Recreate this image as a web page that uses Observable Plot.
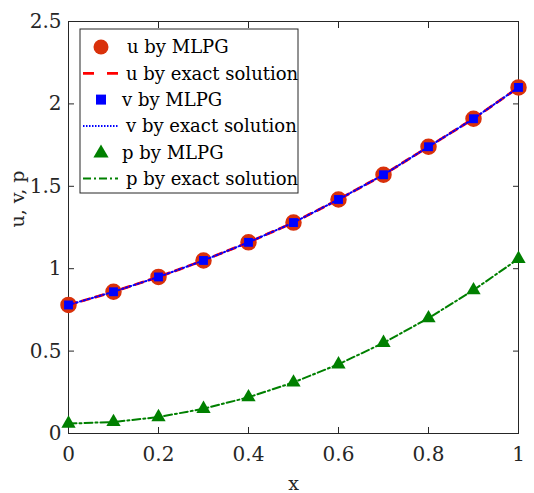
<!DOCTYPE html>
<html>
<head>
<meta charset="utf-8">
<script src="https://cdn.jsdelivr.net/npm/d3@7"></script>
<script src="https://cdn.jsdelivr.net/npm/@observablehq/plot@0.6"></script>
<style>
  html, body { margin: 0; padding: 0; background: #fff; }
  #chart { position: relative; width: 534px; height: 493px; }
</style>
</head>
<body>
<div id="chart"></div>
<script>
const xs = [0, 0.1, 0.2, 0.3, 0.4, 0.5, 0.6, 0.7, 0.8, 0.9, 1.0];
const uVals = [0.78, 0.86, 0.95, 1.05, 1.16, 1.28, 1.42, 1.57, 1.74, 1.91, 2.10];
const vVals = [0.78, 0.86, 0.95, 1.05, 1.16, 1.28, 1.42, 1.57, 1.74, 1.91, 2.10];
const pVals = [0.06, 0.07, 0.10, 0.15, 0.22, 0.31, 0.42, 0.55, 0.70, 0.87, 1.06];
const xTicks = [0, 0.2, 0.4, 0.6, 0.8, 1];
const yTicks = [0, 0.5, 1, 1.5, 2, 2.5];
const yTickLabels = ["0", "0.5", "1", "1.5", "2", "2.5"];
const legendLabels = ["u by MLPG", "u by exact solution", "v by MLPG", "v by exact solution", "p by MLPG", "p by exact solution"];

const uData = xs.map((x, i) => ({x, y: uVals[i]}));
const vData = xs.map((x, i) => ({x, y: vVals[i]}));
const pData = xs.map((x, i) => ({x, y: pVals[i]}));

const FONT = "DejaVu Serif, serif";
const RED = "#ff0000", ORANGE = "#d9310b", BLUE = "#0000ff", GREEN = "#008000";
const INK = "#262626";

const plot = Plot.plot({
  width: 534,
  height: 493,
  marginLeft: 68,
  marginRight: 16,
  marginTop: 21,
  marginBottom: 60,
  style: {fontFamily: FONT, fontSize: "20px", color: INK, background: "#fff"},
  x: {domain: [0, 1], ticks: xTicks},
  y: {domain: [0, 2.5], ticks: yTicks},
  marks: [
    Plot.axisX({anchor: "bottom", ticks: xTicks, tickSize: 0, tickPadding: 13, fontSize: 20, label: null, tickFormat: d => String(d)}),
    Plot.axisX({anchor: "bottom", ticks: xTicks, tickSize: -6, text: null, label: null, stroke: INK}),
    Plot.axisX({anchor: "top", ticks: xTicks, tickSize: -6, text: null, label: null, stroke: INK}),
    Plot.axisY({anchor: "left", ticks: yTicks, tickSize: 0, tickPadding: 7, fontSize: 20, label: null, tickFormat: (d, i) => yTickLabels[i]}),
    Plot.axisY({anchor: "left", ticks: yTicks, tickSize: -6, text: null, label: null, stroke: INK}),
    Plot.axisY({anchor: "right", ticks: yTicks, tickSize: -6, text: null, label: null, stroke: INK}),
    Plot.frame({stroke: INK, strokeWidth: 1}),
    Plot.dot(uData, {x: "x", y: "y", r: 7.5, fill: ORANGE, stroke: ORANGE, symbol: "circle"}),
    Plot.line(uData, {x: "x", y: "y", stroke: RED, strokeWidth: 2.8, strokeDasharray: "8,6"}),
    Plot.dot(vData, {x: "x", y: "y", fill: BLUE, symbol: "square", r: 5}),
    Plot.line(vData, {x: "x", y: "y", stroke: BLUE, strokeWidth: 2, strokeDasharray: "1.5,2.5"}),
    Plot.dot(pData, {x: "x", y: "y", fill: GREEN, symbol: "triangle", r: 5.3}),
    Plot.line(pData, {x: "x", y: "y", stroke: GREEN, strokeWidth: 2, strokeDasharray: "8,3,2,3"}),
    Plot.text(["x"], {frameAnchor: "bottom", dy: 56, text: d => d, fontSize: 19, fill: INK}),
    Plot.text(["u, v, p"], {frameAnchor: "left", dx: -51, rotate: -90, text: d => d, fontSize: 19, fill: INK})
  ]
});
document.getElementById("chart").appendChild(plot);

// Legend (drawn inside the plot, top-left)
const svg = d3.select(plot);
const lg = svg.append("g").attr("font-family", FONT).attr("font-size", 18).attr("fill", "#000").attr("text-anchor", "start");
const bx = 80, by = 29, bw = 218, bh = 164, rowH = 26.3, row0 = by + 18;
lg.append("rect").attr("x", bx).attr("y", by).attr("width", bw).attr("height", bh)
  .attr("fill", "#fff").attr("stroke", INK).attr("stroke-width", 1);
const sx1 = 83, sx2 = 118, sc = 101;
const textX = [127, 126, 122, 126, 122, 126];
legendLabels.forEach((lab, i) => {
  const cy = row0 + i * rowH;
  if (i === 0) lg.append("circle").attr("cx", sc).attr("cy", cy).attr("r", 7.5).attr("fill", ORANGE);
  if (i === 1) lg.append("line").attr("x1", sx1).attr("x2", sx2).attr("y1", cy).attr("y2", cy).attr("stroke", RED).attr("stroke-width", 2.8).attr("stroke-dasharray", "11,13");
  if (i === 2) lg.append("rect").attr("x", sc - 5).attr("y", cy - 5).attr("width", 10).attr("height", 10).attr("fill", BLUE);
  if (i === 3) lg.append("line").attr("x1", sx1).attr("x2", sx2).attr("y1", cy).attr("y2", cy).attr("stroke", BLUE).attr("stroke-width", 2).attr("stroke-dasharray", "1.5,1.5");
  if (i === 4) lg.append("path").attr("d", d3.symbol(d3.symbolTriangle, 100)()).attr("transform", `translate(${sc},${cy + 1})`).attr("fill", GREEN);
  if (i === 5) lg.append("line").attr("x1", sx1).attr("x2", sx2).attr("y1", cy).attr("y2", cy).attr("stroke", GREEN).attr("stroke-width", 2).attr("stroke-dasharray", "8,3,2,3");
  lg.append("text").attr("x", textX[i]).attr("y", cy).attr("dy", "0.35em").text(lab);
});
</script>
</body>
</html>
